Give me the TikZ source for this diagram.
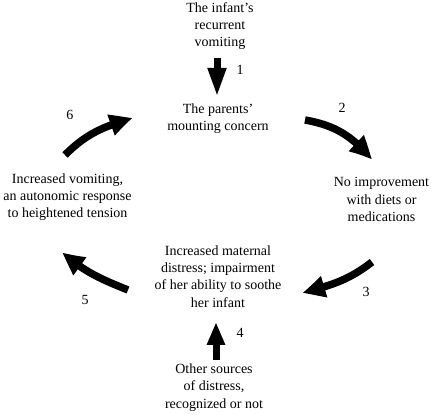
\documentclass[tikz,border=0pt]{standalone}
\usepackage{fontspec}
\setmainfont{Liberation Serif}
\usetikzlibrary{arrows.meta,bending}
\begin{document}
\begin{tikzpicture}[x=1pt,y=1pt,
  txt/.style={align=center, inner sep=0pt, anchor=north, font=\fontsize{14}{17.3}\selectfont},
  num/.style={inner sep=0pt, font=\fontsize{14}{17}\selectfont},
  straightarrow/.style={line width=7pt, -{Triangle[length=29pt,width=17pt]}},
  uparrow/.style={line width=7pt, -{Triangle[length=23pt,width=17pt]}},
  curvearrow/.style={line width=7.5pt, -{Triangle[length=24pt,width=20pt,bend]}}]
\useasboundingbox (0,0) rectangle (432,415);
% text blocks
\node[txt] (infant) at (220,412.7) {The infant’s\\recurrent\\vomiting};
\node[txt] (parents) at (218,311.7) {The parents’\\mounting concern};
\node[txt] (noimp) at (381.5,237.7) {No improvement\\with diets or\\medications};
\node[txt] (vom) at (67.5,241.7) {Increased vomiting,\\an autonomic response\\to heightened tension};
\node[txt] (mat) at (218,169.7) {Increased maternal\\distress; impairment\\of her ability to soothe\\her infant};
\node[txt] (other) at (214,51.3) {Other sources\\of distress,\\recognized or not};
% arrow ends
\coordinate (a1s) at (217,357);
\coordinate (a1e) at (217,318);
\coordinate (a2s) at (305,295);
\coordinate (a2e) at (372,255);
\coordinate (a3s) at (372,153);
\coordinate (a3e) at (302,122);
\coordinate (a4s) at (216,55);
\coordinate (a4e) at (216,93);
\coordinate (a5s) at (128,125);
\coordinate (a5e) at (62,163);
\coordinate (a6s) at (65,260);
\coordinate (a6e) at (133,297);
% arrows
\draw[straightarrow] (a1s) -- (a1e);
\draw[curvearrow] (a2s) to[out=-10,in=129] (a2e);
\draw[curvearrow] (a3s) to[out=218,in=15] (a3e);
\draw[uparrow] (a4s) -- (a4e);
\draw[curvearrow] (a5s) to[out=158,in=-42] (a5e);
\draw[curvearrow] (a6s) to[out=45,in=196] (a6e);
% numbers
\node[num] (n1) at (240,345) {1};
\node[num] (n2) at (342,307) {2};
\node[num] (n3) at (366,123) {3};
\node[num] (n4) at (240,82) {4};
\node[num] (n5) at (85,115) {5};
\node[num] (n6) at (70,300) {6};
\end{tikzpicture}
\end{document}
